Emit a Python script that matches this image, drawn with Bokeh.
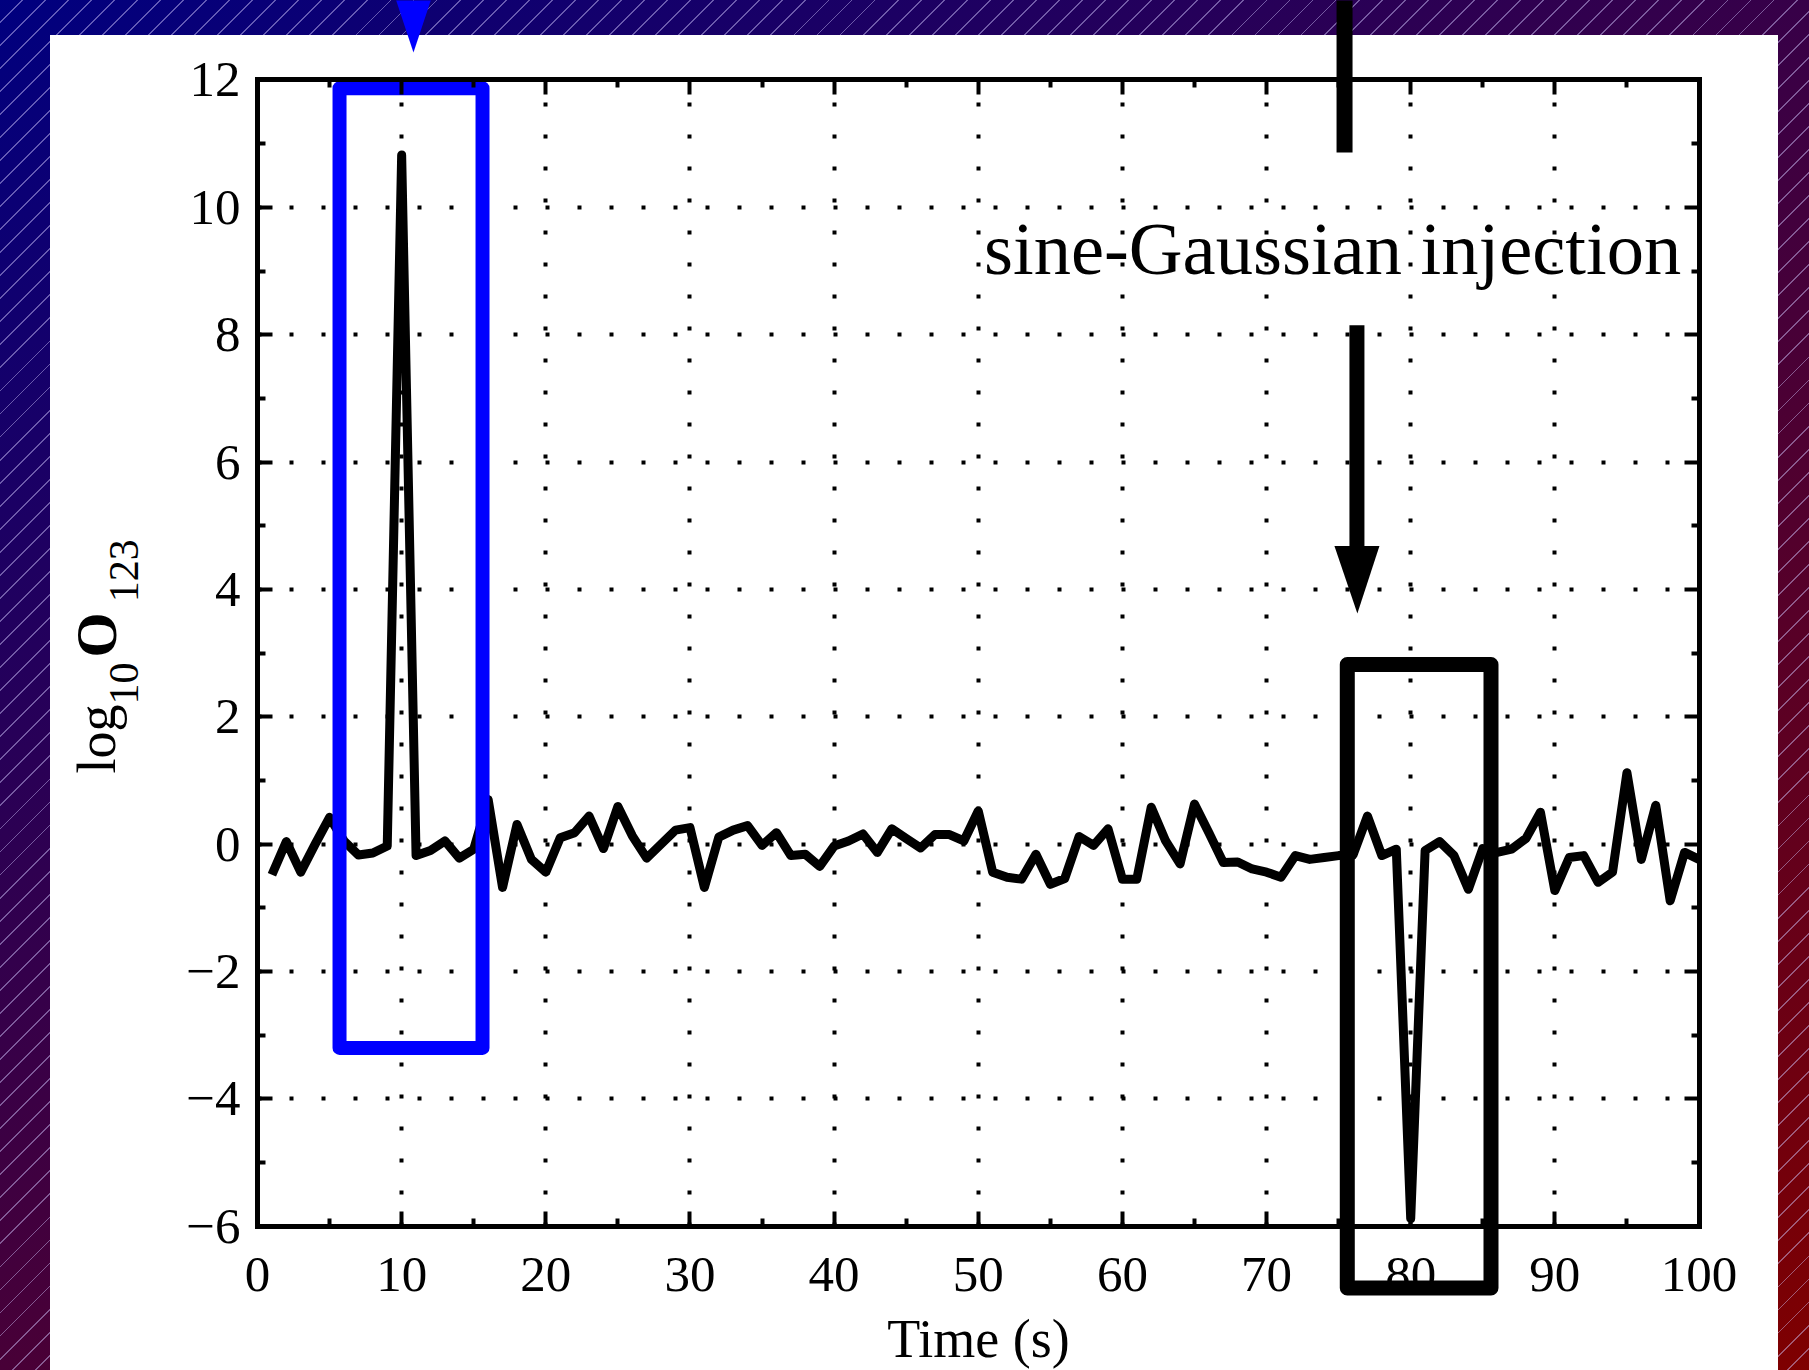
from bokeh.plotting import figure
from bokeh.models import (Range1d, LinearAxis, Grid, FixedTicker, Label,
                          CustomJSTickFormatter)
from bokeh.embed import file_html
from bokeh.resources import INLINE

# ---------------- data ----------------
time_s = list(range(1, 101))
log10_O123 = [
    -0.48, 0.04, -0.44, 0.00, 0.42, 0.05, -0.17, -0.14, -0.03, 10.82,
    -0.18, -0.10, 0.05, -0.22, -0.08, 0.70, -0.68, 0.31, -0.24, -0.44,
    0.10, 0.18, 0.44, -0.07, 0.59, 0.13, -0.22, 0.00, 0.22, 0.26,
    -0.68, 0.11, 0.22, 0.29, -0.02, 0.18, -0.18, -0.16, -0.35, -0.03,
    0.05, 0.16, -0.13, 0.24, 0.09, -0.06, 0.15, 0.15, 0.05, 0.52,
    -0.44, -0.52, -0.55, -0.16, -0.63, -0.54, 0.12, -0.02, 0.24, -0.55,
    -0.55, 0.58, 0.05, -0.31, 0.63, 0.18, -0.29, -0.28, -0.39, -0.44,
    -0.52, -0.18, -0.24, -0.21, -0.18, -0.17, 0.44, -0.18, -0.08, -5.88,
    -0.10, 0.04, -0.18, -0.71, -0.07, -0.13, -0.08, 0.09, 0.50, -0.73,
    -0.21, -0.18, -0.60, -0.44, 1.12, -0.24, 0.61, -0.89, -0.13, -0.24,
]

x_ticks = [0, 10, 20, 30, 40, 50, 60, 70, 80, 90, 100]
x_minor_ticks = [5, 15, 25, 35, 45, 55, 65, 75, 85, 95]
y_ticks = [-6, -4, -2, 0, 2, 4, 6, 8, 10, 12]
y_minor_ticks = [-5, -3, -1, 1, 3, 5, 7, 9, 11]
y_tick_labels = ["\u22126", "\u22124", "\u22122", "0", "2", "4", "6", "8", "10", "12"]
x_tick_labels = ["0", "10", "20", "30", "40", "50", "60", "70", "80", "90", "100"]

x_label = "Time (s)"
annotation_text = "sine-Gaussian injection"

# highlight boxes (data units)
glitch_box = dict(left=5.69, right=15.61, top=11.87, bottom=-3.20)
injection_box = dict(left=75.60, right=85.57, top=2.82, bottom=-6.97)

FONT = "Liberation Serif"
W, H = 1809, 1370

p = figure(width=W, height=H,
           x_range=Range1d(-17.829, 107.665), y_range=Range1d(-8.266, 13.248),
           output_backend="svg", toolbar_location=None,
           x_axis_location=None, y_axis_location=None,
           min_border=0, title=None)
p.center = []
p.outline_line_color = None
p.background_fill_color = None
p.border_fill_color = None
p.styles = {
    "background":
        "linear-gradient(#ffffff, #ffffff) 50px 35px / 1728px 1400px no-repeat, "
        "repeating-linear-gradient(135deg, rgba(255,255,255,0) 0px, rgba(255,255,255,0) 15px, "
        "rgba(210,200,255,0.45) 15px, rgba(210,200,255,0.45) 16.3px), "
        "linear-gradient(150deg, #00007f 0%, #7f0000 100%)"
}

def make_axis(fixed, bounds, ticks, minor, labels, show_labels):
    ax = LinearAxis(fixed_location=fixed, bounds=bounds,
                    ticker=FixedTicker(ticks=ticks, minor_ticks=minor))
    ax.axis_line_width = 5
    ax.axis_line_color = "black"
    ax.axis_line_cap = "square"
    ax.major_tick_line_width = 4
    ax.minor_tick_line_width = 4
    ax.major_tick_in = 15
    ax.major_tick_out = 0
    ax.minor_tick_in = 8
    ax.minor_tick_out = 0
    ax.major_label_text_font = FONT
    ax.major_label_text_font_size = "51px"
    ax.major_label_text_color = "black"
    if show_labels:
        ax.major_label_overrides = {t: l for t, l in zip(ticks, labels)}
    else:
        ax.formatter = CustomJSTickFormatter(code="return ''")
    return ax

bottom = make_axis(-6, (0, 100), x_ticks, x_minor_ticks, x_tick_labels, True)
bottom.major_label_standoff = 32
bottom.axis_label = x_label
bottom.axis_label_text_font = FONT
bottom.axis_label_text_font_size = "54px"
bottom.axis_label_text_font_style = "normal"
bottom.axis_label_text_color = "black"
bottom.axis_label_standoff = 14
p.add_layout(bottom, "below")

left = make_axis(0, (-6, 12), y_ticks, y_minor_ticks, y_tick_labels, True)
left.major_label_standoff = 17
p.add_layout(left, "left")

top = make_axis(12, (0, 100), x_ticks, x_minor_ticks, x_tick_labels, False)
p.add_layout(top, "above")
right = make_axis(100, (-6, 12), y_ticks, y_minor_ticks, y_tick_labels, False)
p.add_layout(right, "right")

grid_style = dict(grid_line_color="black", grid_line_width=4, grid_line_dash="4 28")
if "cross_bounds" in Grid.properties():
    p.add_layout(Grid(dimension=0, axis=bottom, bounds=(0, 100), cross_bounds=(-6, 12), **grid_style))
    p.add_layout(Grid(dimension=1, axis=left, bounds=(-6, 12), cross_bounds=(0, 100), **grid_style))
else:
    p.segment(x0=x_ticks[1:-1], y0=[-6] * 9, x1=x_ticks[1:-1], y1=[12] * 9,
              line_color="black", line_width=4, line_dash="4 28")
    p.segment(x0=[0] * 8, y0=y_ticks[1:-1], x1=[100] * 8, y1=y_ticks[1:-1],
              line_color="black", line_width=4, line_dash="4 28")

# data curve
p.line(time_s, log10_O123, line_color="black", line_width=9, line_join="round")

# highlight boxes
p.quad(**{k: [v] for k, v in glitch_box.items()}, fill_color=None,
       line_color="#0000ff", line_width=14, line_join="round")
p.quad(**{k: [v] for k, v in injection_box.items()}, fill_color=None,
       line_color="black", line_width=15, line_join="round")

# arrows (shafts + heads)
p.segment(x0=[75.41], y0=[10.86], x1=[75.41], y1=[13.6], line_color="black", line_width=16)
p.segment(x0=[76.27], y0=[8.15], x1=[76.27], y1=[4.68], line_color="black", line_width=15)
p.patch([76.27 - 1.561, 76.27 + 1.561, 76.30], [4.68, 4.68, 3.62], fill_color="black", line_color=None)
p.patch([10.82 - 1.561, 10.82 + 1.561, 10.82], [13.495, 13.495, 12.43], fill_color="#0000ff", line_color=None)

p.add_layout(Label(x=74.58, y=9.351, text=annotation_text, text_align="center",
                   text_baseline="middle", text_font=FONT, text_font_size="74.5px",
                   text_color="black"))

# y-axis label: log_10 O_123 (rotated)
ylab = [
    ("log", -11.113, 1.110, "54px", "normal"),
    ("10", -9.240, 2.194, "42px", "normal"),
    ("O", -11.160, 2.932, "58px", "bold"),
    ("123", -9.240, 3.800, "42px", "normal"),
]
for txt, lx, ly, fs, st in ylab:
    p.add_layout(Label(x=lx, y=ly, text=txt, angle=90, angle_units="deg",
                       text_align="left", text_baseline="middle",
                       text_font=FONT, text_font_size=fs, text_font_style=st,
                       text_color="black"))

open("out.html", "w").write(file_html(p, INLINE))
